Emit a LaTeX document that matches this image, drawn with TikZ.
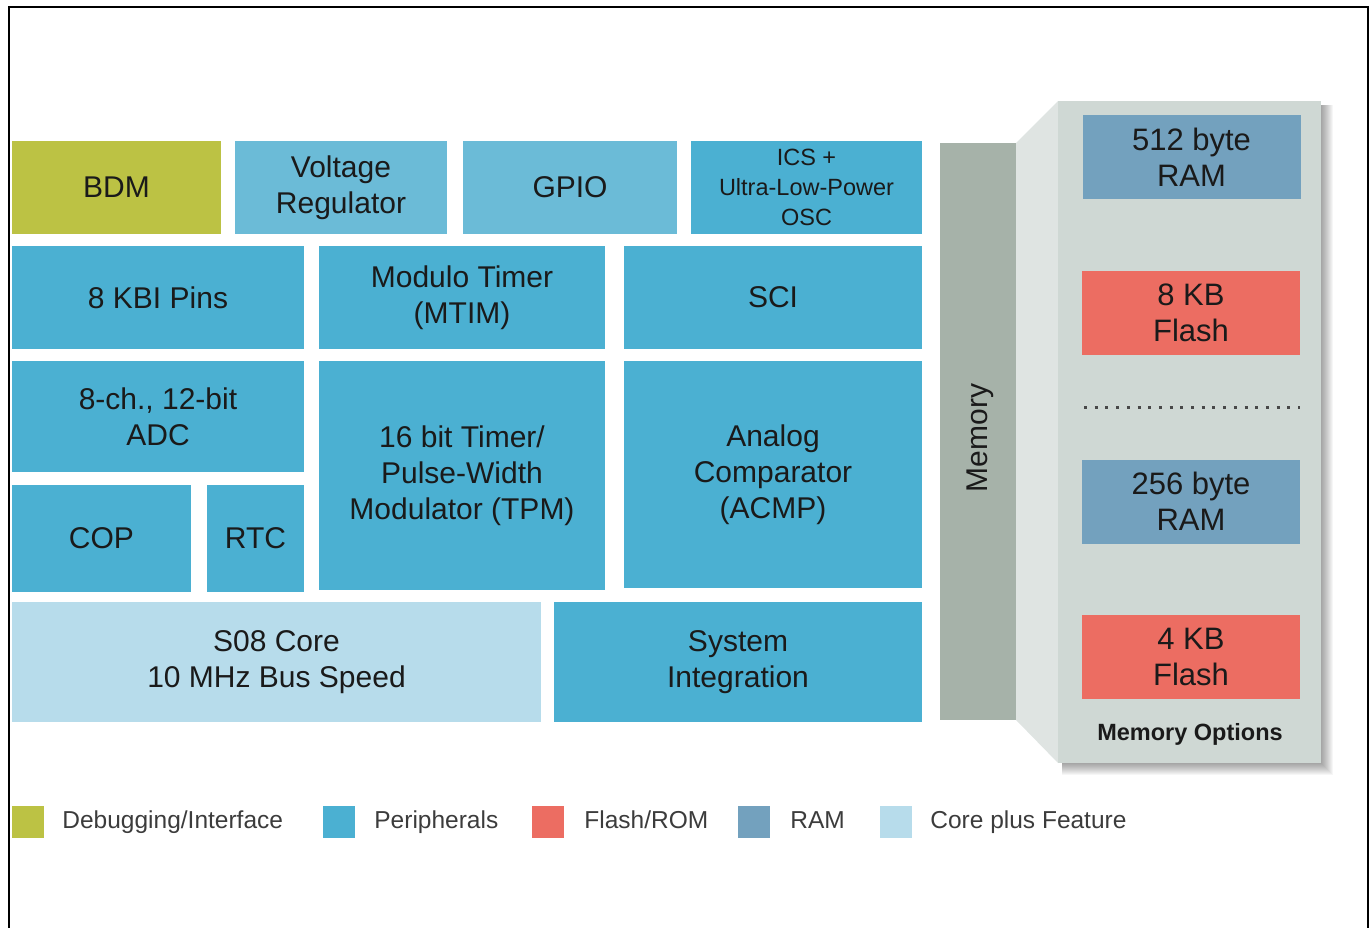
\documentclass[tikz,border=0pt]{standalone}
\usepackage{fontspec}
\setmainfont{Liberation Sans}
\usepackage{xcolor}
\usepackage{tikz}
\usetikzlibrary{positioning}

\definecolor{dbgcol}{HTML}{BCC244}
\definecolor{percol}{HTML}{4BB0D2}
\definecolor{perlight}{HTML}{6BBBD7}
\definecolor{flashcol}{HTML}{EC6D62}
\definecolor{ramcol}{HTML}{73A1BE}
\definecolor{corecol}{HTML}{B7DCEB}
\definecolor{membar}{HTML}{A6B2A9}
\definecolor{panelcol}{HTML}{CFD8D4}
\definecolor{wingcol}{HTML}{DFE4E2}
\definecolor{txtcol}{HTML}{1A1A1A}

\tikzset{
  blk/.style={inner sep=0pt, align=center, text=txtcol,
    font=\fontsize{30}{36}\selectfont},
  dbg/.style={blk, fill=dbgcol},
  per/.style={blk, fill=percol},
  perl/.style={blk, fill=perlight},
  core/.style={blk, fill=corecol},
  ram/.style={blk, fill=ramcol, minimum width=218pt, minimum height=84pt,
    font=\fontsize{31}{36}\selectfont},
  flash/.style={ram, fill=flashcol},
  legsq/.style={minimum size=32pt, inner sep=0pt},
  legtxt/.style={inner sep=0pt, text height=18pt, text depth=5pt, text=txtcol!85,
    font=\fontsize{24.5}{28}\selectfont}
}

\begin{document}
\begin{tikzpicture}[x=1pt,y=-1pt]
    \useasboundingbox (0,0) rectangle (1370,928);

    % frame
    \draw[line width=2pt] (9,928) -- (9,7) -- (1368,7) -- (1368,928);

    % top row
    \node[dbg, minimum width=209pt, minimum height=93pt] (bdm) at (116.5,187.5) {BDM};
    \node[perl, minimum width=212pt, minimum height=93pt] (vreg) at (341,187.5) {Voltage\\Regulator};
    \node[perl, minimum width=214pt, minimum height=93pt] (gpio) at (570,187.5) {GPIO};
    \node[per, minimum width=231pt, minimum height=93pt, font=\fontsize{23.5}{30}\selectfont]
        (ics) at (806.5,187.5) {ICS +\\Ultra-Low-Power\\OSC};

    % peripherals
    \node[per, minimum width=292pt, minimum height=103pt] (kbi) at (158,297.5) {8 KBI Pins};
    \node[per, minimum width=286pt, minimum height=103pt] (mtim) at (462,297.5) {Modulo Timer\\(MTIM)};
    \node[per, minimum width=298pt, minimum height=103pt] (sci) at (773,297.5) {SCI};
    \node[per, minimum width=292pt, minimum height=111pt] (adc) at (158,416.5) {8-ch., 12-bit\\ADC};
    \node[per, minimum width=179pt, minimum height=107pt] (cop) at (101.5,538.5) {COP};
    \node[per, minimum width=97pt, minimum height=107pt] (rtc) at (255.5,538.5) {RTC};
    \node[per, minimum width=286pt, minimum height=229pt] (tpm) at (462,475.5)
        {16 bit Timer/\\Pulse-Width\\Modulator (TPM)};
    \node[per, minimum width=298pt, minimum height=227pt] (acmp) at (773,474.5)
        {Analog\\Comparator\\(ACMP)};

    % core row
    \node[core, minimum width=529pt, minimum height=120pt] (core) at (276.5,662)
        {S08 Core\\10 MHz Bus Speed};
    \node[per, minimum width=368pt, minimum height=120pt] (sysint) at (738,662)
        {System\\Integration};

    % memory bar and options
    \node[blk, fill=membar, minimum width=76pt, minimum height=577pt] (mem) at (978,431.5) {};
    \node[blk, rotate=90] (memtxt) at (980,438) {Memory};
    \fill[wingcol] (1016,143) -- (1058,101) -- (1058,763) -- (1016,720) -- cycle;
    % soft shadow
    \foreach \i in {0,...,11}
        \fill[black, opacity=.035] (1062,105) rectangle (1322+\i,764+\i);
    \node[blk, fill=panelcol, minimum width=263pt, minimum height=662pt]
        (panel) at (1189.5,432) {};
    \node[ram] (ram512) at (1191.5,157.5) {512 byte\\RAM};
    \node[flash] (flash8) at (1191,313) {8 KB\\Flash};
    \draw[line width=3pt, txtcol!80, dash pattern=on 3pt off 7.7pt]
        (1084,407) -- (1300,407);
    \node[ram] (ram256) at (1191,501.5) {256 byte\\RAM};
    \node[flash] (flash4) at (1191,657) {4 KB\\Flash};
    \node[blk, font=\bfseries\fontsize{23.5}{28}\selectfont] (memopt) at (1190,734) {Memory Options};

    % legend
    \node[legsq, fill=dbgcol] (lg1) at (28,822) {};
    \node[legtxt, right=18pt of lg1] (lt1) {Debugging/Interface};
    \node[legsq, fill=percol] (lg2) at (339,822) {};
    \node[legtxt, right=19pt of lg2] (lt2) {Peripherals};
    \node[legsq, fill=flashcol] (lg3) at (548,822) {};
    \node[legtxt, right=20pt of lg3] (lt3) {Flash/ROM};
    \node[legsq, fill=ramcol] (lg4) at (754,822) {};
    \node[legtxt, right=20pt of lg4] (lt4) {RAM};
    \node[legsq, fill=corecol] (lg5) at (896,822) {};
    \node[legtxt, right=18pt of lg5] (lt5) {Core plus Feature};
\end{tikzpicture}
\end{document}
